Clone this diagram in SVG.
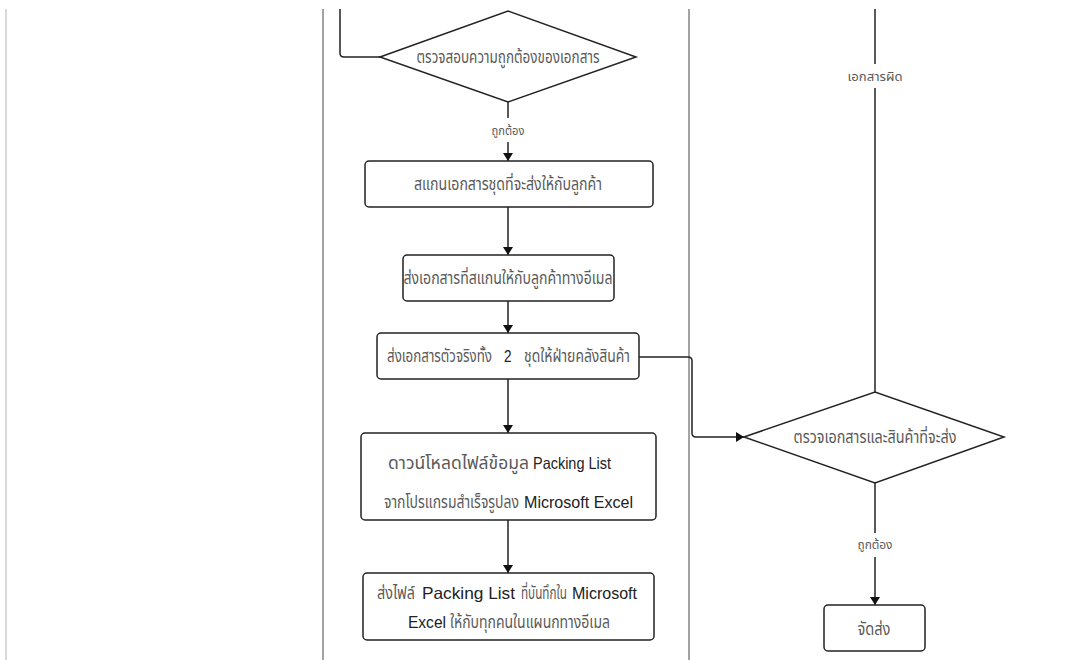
<svg xmlns="http://www.w3.org/2000/svg" width="1069" height="660" viewBox="0 0 1069 660">
  <defs>
    <marker id="arrow" viewBox="0 0 10 10" refX="10" refY="5" markerWidth="8" markerHeight="10" markerUnits="userSpaceOnUse" orient="auto" preserveAspectRatio="none">
      <path d="M0,0 L10,5 L0,10 z" fill="#111"/>
    </marker>
    <style>
      .lane { stroke: #8c8c8c; stroke-width: 1.6; fill: none; }
      .lane-light { stroke: #cfcfcf; stroke-width: 1.6; fill: none; }
      .box { fill: #fff; stroke: #222; stroke-width: 1.5; }
      .edge { fill: none; stroke: #222; stroke-width: 1.5; }
      /* node text is set small and stretched vertically (see transforms) for a condensed look */
      .txt { font-family: "Liberation Sans", "Noto Sans Thai", "Noto Sans", sans-serif; font-size: 13.5px; fill: #5a5a5a; text-anchor: middle; dominant-baseline: central; }
      .seg { text-anchor: start; }
      .lbl { font-family: "Liberation Sans", "Noto Sans Thai", "Noto Sans", sans-serif; font-size: 12px; fill: #5a5a5a; text-anchor: middle; dominant-baseline: central; }
      .en { fill: #222; }
    </style>
  </defs>
  <rect width="1069" height="660" fill="#fff"/>

  <!-- swimlane dividers -->
  <g id="lanes">
    <line class="lane-light" x1="6" y1="9" x2="6" y2="660"/>
    <line class="lane" x1="323" y1="9" x2="323" y2="660"/>
    <line class="lane" x1="689" y1="9" x2="689" y2="660"/>
  </g>

  <!-- connectors -->
  <g id="connectors">
    <path class="edge" d="M340,9 V53 Q340,57 344,57 H380"/>
    <path class="edge" d="M508,102 V118"/>
    <path class="edge" d="M508,142 V161" marker-end="url(#arrow)"/>
    <path class="edge" d="M508,207 V255" marker-end="url(#arrow)"/>
    <path class="edge" d="M508,301 V333" marker-end="url(#arrow)"/>
    <path class="edge" d="M508,379 V433" marker-end="url(#arrow)"/>
    <path class="edge" d="M508,520 V573" marker-end="url(#arrow)"/>
    <path class="edge" d="M639,357 H688 Q692,357 692,361 V433 Q692,437 696,437 H744" marker-end="url(#arrow)"/>
    <path class="edge" d="M875,392 V88"/>
    <path class="edge" d="M875,64 V9"/>
    <path class="edge" d="M875,483 V533"/>
    <path class="edge" d="M875,557 V605" marker-end="url(#arrow)"/>
    <text class="lbl" x="508" y="131" textLength="33" lengthAdjust="spacingAndGlyphs">ถูกต้อง</text>
    <text class="lbl" x="875" y="77" textLength="55" lengthAdjust="spacingAndGlyphs">เอกสารผิด</text>
    <text class="lbl" x="875" y="545" textLength="35" lengthAdjust="spacingAndGlyphs">ถูกต้อง</text>
  </g>

  <g id="check-docs">
    <polygon class="box" points="380,57 508,11 636,57 508,102"/>
    <text class="txt" x="508" y="57" transform="matrix(1,0,0,1.25,0,-14.25)" textLength="183" lengthAdjust="spacingAndGlyphs">ตรวจสอบความถูกต้องของเอกสาร</text>
  </g>

  <g id="scan-docs">
    <rect class="box" x="365" y="161" width="288" height="46" rx="4"/>
    <text class="txt" x="508" y="184" transform="matrix(1,0,0,1.25,0,-46)" textLength="188" lengthAdjust="spacingAndGlyphs">สแกนเอกสารชุดที่จะส่งให้กับลูกค้า</text>
  </g>

  <g id="email-scans">
    <rect class="box" x="403" y="255" width="211" height="46" rx="4"/>
    <text class="txt" x="508" y="278" transform="matrix(1,0,0,1.25,0,-69.5)" textLength="209" lengthAdjust="spacingAndGlyphs">ส่งเอกสารที่สแกนให้กับลูกค้าทางอีเมล</text>
  </g>

  <g id="send-originals">
    <rect class="box" x="377" y="333" width="262" height="46" rx="4"/>
    <g transform="matrix(1,0,0,1.25,0,-89)">
      <text class="txt seg" x="387" y="356" textLength="105" lengthAdjust="spacingAndGlyphs">ส่งเอกสารตัวจริงทั้ง</text>
      <text class="txt seg en" x="504" y="356">2</text>
      <text class="txt seg" x="524" y="356" textLength="106" lengthAdjust="spacingAndGlyphs">ชุดให้ฝ่ายคลังสินค้า</text>
    </g>
  </g>

  <g id="download-packing-list">
    <rect class="box" x="361" y="433" width="295" height="87" rx="4"/>
    <g transform="matrix(1,0,0,1.25,0,-115.75)">
      <text class="txt seg" x="388" y="463" textLength="141" lengthAdjust="spacingAndGlyphs">ดาวน์โหลดไฟล์ข้อมูล</text>
      <text class="txt seg en" x="533" y="463" textLength="78" lengthAdjust="spacingAndGlyphs">Packing List</text>
    </g>
    <g transform="matrix(1,0,0,1.25,0,-125.5)">
      <text class="txt seg" x="384" y="502" textLength="135" lengthAdjust="spacingAndGlyphs">จากโปรแกรมสำเร็จรูปลง</text>
      <text class="txt seg en" x="524" y="502" textLength="109" lengthAdjust="spacingAndGlyphs">Microsoft Excel</text>
    </g>
  </g>

  <g id="share-packing-list">
    <rect class="box" x="363" y="573" width="291" height="67" rx="4"/>
    <g transform="matrix(1,0,0,1.25,0,-148.25)">
      <text class="txt seg" x="377" y="593" textLength="38" lengthAdjust="spacingAndGlyphs">ส่งไฟล์</text>
      <text class="txt seg en" x="422" y="593" textLength="93" lengthAdjust="spacingAndGlyphs">Packing List</text>
      <text class="txt seg" x="521" y="593" textLength="46" lengthAdjust="spacingAndGlyphs">ที่บันทึกใน</text>
      <text class="txt seg en" x="572" y="593" textLength="65" lengthAdjust="spacingAndGlyphs">Microsoft</text>
    </g>
    <g transform="matrix(1,0,0,1.25,0,-155.5)">
      <text class="txt seg en" x="408" y="622" textLength="38" lengthAdjust="spacingAndGlyphs">Excel</text>
      <text class="txt seg" x="450" y="622" textLength="160" lengthAdjust="spacingAndGlyphs">ให้กับทุกคนในแผนกทางอีเมล</text>
    </g>
  </g>

  <g id="check-goods">
    <polygon class="box" points="744,437 875,392 1004,437 875,483"/>
    <text class="txt" x="875" y="437" transform="matrix(1,0,0,1.25,0,-109.25)" textLength="163" lengthAdjust="spacingAndGlyphs">ตรวจเอกสารและสินค้าที่จะส่ง</text>
  </g>

  <g id="dispatch">
    <rect class="box" x="824" y="605" width="101" height="46" rx="4"/>
    <text class="txt" x="874" y="629" transform="matrix(1,0,0,1.25,0,-157.25)" textLength="33" lengthAdjust="spacingAndGlyphs">จัดส่ง</text>
  </g>
</svg>
